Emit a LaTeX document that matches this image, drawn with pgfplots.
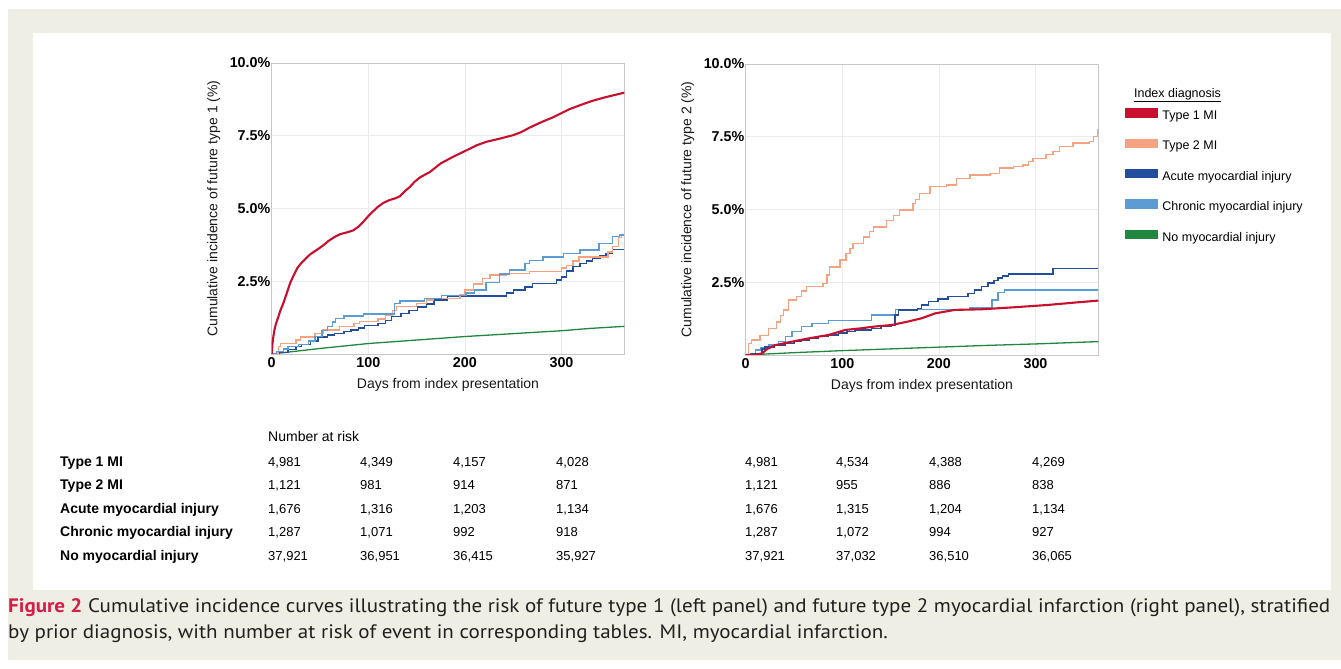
\documentclass[border=0pt]{standalone}
\usepackage{pgfplots}
\pgfplotsset{compat=1.18}
\usepackage{fontspec}
\usepackage{graphicx}
\setmainfont{Liberation Sans}
\newfontfamily\capfont{PT Sans}

\definecolor{bgbeige}{RGB}{238,238,228}
\definecolor{tone}{RGB}{200,16,46}
\definecolor{ttwo}{RGB}{244,162,128}
\definecolor{acute}{RGB}{35,78,158}
\definecolor{chronic}{RGB}{92,156,210}
\definecolor{noinj}{RGB}{34,135,62}
\definecolor{figred}{RGB}{214,28,72}
\definecolor{captext}{RGB}{35,31,32}

\pgfplotsset{
  kmaxis/.style={
    scale only axis, width=352.6pt, height=291pt,
    xmin=0, xmax=365, ymin=0, ymax=10,
    xtick={0,100,200,300}, xticklabels={0,100,200,300},
    ytick={2.5,5,7.5,10}, yticklabels={2.5\%,5.0\%,7.5\%,10.0\%},
    major tick length=0pt,
    grid=major,
    major grid style={draw=black!8, line width=0.7pt},
    axis line style={draw=black!22, line width=0.9pt},
    /pgf/number format/assume math mode=true,
    ticklabel style={font=\bfseries\fontsize{14.3}{14.3}\selectfont, text=black},
    yticklabel style={inner sep=1.2pt},
    xticklabel style={inner sep=2pt, yshift=-1.5pt},
    label style={font=\fontsize{14}{14}\selectfont, text=black!90},
    xlabel style={at={(axis description cs:0.5,0)}, anchor=center, yshift=-31pt},
    ylabel style={at={(axis description cs:-0.1645,0.5)}, anchor=center},
    xlabel={Days from index presentation},
  }
}

\newsavebox\capA
\newsavebox\capB
\newlength\capw

\begin{document}
\sbox\capA{\capfont\fontsize{19.5}{19.5}\selectfont\color{captext}{\bfseries\color{figred}Figure 2} Cumulative incidence curves illustrating the risk of future type 1 (left panel) and future type 2 myocardial infarction (right panel), stratified}%
\sbox\capB{\capfont\fontsize{19.5}{19.5}\selectfont\color{captext}by prior diagnosis, with number at risk of event in corresponding tables. MI, myocardial infarction.}%
\setlength\capw{\wd\capA}%
\begin{tikzpicture}[x=1pt,y=1pt]
\pgfmathsetmacro\capfac{1322/\capw}
\fill[white] (0,0) rectangle (1341,669);
\fill[bgbeige] (8,9) rectangle (1341,660);
\fill[white] (33,79) rectangle (1331,636);

% ---------------- left panel ----------------
\begin{axis}[kmaxis, at={(271.7pt,315pt)}, anchor=south west,
  ylabel={Cumulative incidence of future type 1 (\%)}]
\addplot[noinj, line width=1.3pt] coordinates {
(0,0) (50,0.19) (100,0.36) (150,0.48) (200,0.6) (250,0.70) (300,0.8) (330,0.88) (365,0.95)};
\addplot[acute, line width=1.4pt, const plot] coordinates {
(0,0) (8,0.05) (16.8,0.16) (25,0.25) (30.6,0.33) (40,0.45) (48,0.59) (58,0.65) (65,0.71) (75,0.77) (82,0.82) (90,0.9) (96,0.97) (110,1.05) (118,1.15) (124,1.28) (134,1.39) (142,1.5) (151,1.62) (160,1.72) (168,1.85) (182,1.99) (243,2.1) (250,2.2) (262,2.3) (270,2.43) (295,2.54) (300,2.65) (305,2.85) (312,3.0) (319,3.11) (326,3.2) (332,3.29) (340,3.38) (346,3.46) (353,3.6) (365,3.6)};
\addplot[ttwo, line width=1.4pt, const plot] coordinates {
(0,0) (7,0.25) (9,0.37) (25,0.48) (30,0.59) (45,0.7) (53,0.82) (70,0.94) (85,1.05) (91,1.11) (110,1.2) (118,1.34) (125,1.5) (129,1.63) (150,1.74) (160,1.85) (167,1.91) (195,2.03) (200,2.2) (209,2.4) (218,2.6) (226,2.71) (243,2.77) (267,2.83) (300,2.95) (305,3.05) (312,3.2) (318,3.34) (348,3.5) (353,3.69) (359,4.0) (362,4.09) (365,4.09)};
\addplot[chronic, line width=1.4pt, const plot] coordinates {
(0,0) (5,0.08) (12,0.17) (17,0.25) (28,0.33) (38,0.45) (45,0.6) (52,0.8) (58,0.94) (63,1.1) (66,1.22) (75,1.3) (95,1.38) (127,1.74) (133,1.82) (158,1.9) (176,2.0) (201,2.1) (210,2.2) (222,2.45) (236,2.75) (246,2.88) (262,3.1) (267,3.22) (281,3.34) (302,3.45) (319,3.57) (339,3.8) (353,4.03) (360,4.09) (365,4.09)};
\addplot[tone, line width=2.1pt] coordinates {
(0,0) (0.8,0.35) (1.7,0.6) (3,0.85) (4.5,1.05) (6.9,1.28) (9,1.5) (12,1.74) (15.5,2.08) (19,2.43) (22,2.65) (26.5,2.95) (30,3.1) (35,3.27) (40,3.43) (48.6,3.62) (54,3.75) (59,3.89) (65,4.02) (71,4.12) (78,4.18) (84.5,4.25) (90,4.38) (95,4.55) (101.7,4.8) (110,5.06) (116,5.2) (122,5.29) (128,5.35) (132.7,5.42) (138,5.6) (143,5.74) (148,5.92) (153.6,6.07) (164,6.26) (170,6.42) (175,6.55) (188,6.78) (201.7,7.0) (212,7.17) (222,7.29) (236,7.4) (250,7.52) (258,7.62) (267,7.78) (280,7.98) (291,8.13) (300,8.28) (308,8.41) (320,8.56) (332,8.7) (345,8.82) (355,8.9) (365,8.98)};
\end{axis}

% ---------------- right panel ----------------
\begin{axis}[kmaxis, at={(745.7pt,314pt)}, anchor=south west,
  ylabel={Cumulative incidence of future type 2 (\%)},
  legend image code/.code={\fill[#1] (0pt,-0.3pt) rectangle (32pt,8pt);},
  legend cell align=left,
  legend style={at={(axis description cs:1.0757,0.848)}, anchor=north west,
    draw=none, fill=none, inner sep=0pt, outer sep=0pt,
    row sep=16.2pt, column sep=5pt,
    font=\fontsize{12.5}{12.5}\selectfont,
    nodes={inner sep=0pt, text height=9pt, text depth=3pt}}]
\addlegendimage{tone}\addlegendentry{Type 1 MI}
\addlegendimage{ttwo}\addlegendentry{Type 2 MI}
\addlegendimage{acute}\addlegendentry{Acute myocardial injury}
\addlegendimage{chronic}\addlegendentry{Chronic myocardial injury}
\addlegendimage{noinj}\addlegendentry{No myocardial injury}
\addplot[noinj, line width=1.3pt, forget plot] coordinates {
(0,0) (50,0.08) (100,0.15) (150,0.21) (200,0.27) (250,0.33) (300,0.38) (365,0.46)};
\addplot[ttwo, line width=1.4pt, const plot, forget plot] coordinates {
(0,0) (2.8,0.40) (6.2,0.51) (14.8,0.68) (23.4,0.91) (32,1.14) (36,1.35) (39,1.55) (44,1.89) (52.7,2.0) (58,2.2) (63,2.35) (80,2.46) (84,2.75) (87,3.03) (97.5,3.26) (104,3.49) (108,3.65) (111,3.83) (121.7,4.06) (128,4.25) (132,4.40) (146,4.63) (153,4.8) (159,4.98) (173,5.2) (176,5.35) (180,5.55) (190.6,5.78) (208,5.84) (218,6.07) (232,6.18) (253,6.24) (263,6.42) (277,6.47) (287,6.53) (293,6.65) (297.5,6.76) (311,6.88) (318,7.0) (325,7.16) (339,7.28) (356,7.34) (360,7.5) (364,7.74) (365,7.74)};
\addplot[chronic, line width=1.4pt, const plot, forget plot] coordinates {
(0,0) (8,0.06) (10,0.17) (16,0.25) (23.8,0.34) (34,0.46) (41,0.63) (48,0.80) (58,0.98) (68.6,1.09) (86,1.18) (130,1.38) (155,1.57) (232,1.62) (255,1.89) (261,2.14) (268,2.24) (365,2.24)};
\addplot[acute, line width=1.4pt, const plot, forget plot] coordinates {
(0,0) (5,0.03) (13.4,0.06) (17,0.2) (20,0.28) (30,0.34) (41,0.40) (50,0.46) (58,0.52) (66,0.57) (75,0.63) (85,0.69) (96,0.75) (105,0.8) (113,0.86) (130,0.92) (140,0.97) (151,1.03) (154.6,1.38) (158,1.55) (178,1.6) (182,1.72) (189,1.84) (199,1.92) (209.6,2.01) (230,2.12) (237,2.24) (244,2.35) (251,2.47) (257,2.55) (261.3,2.64) (266,2.72) (272,2.79) (318,2.98) (365,2.98)};
\addplot[tone, line width=2.1pt, forget plot] coordinates {
(0,0) (10,0) (17,0.06) (22,0.2) (30.6,0.34) (48,0.46) (65,0.57) (86,0.69) (103,0.86) (120,0.92) (134,0.98) (151,1.03) (168,1.15) (182,1.26) (196,1.43) (216.5,1.55) (244,1.57) (278,1.64) (313,1.72) (340,1.8) (365,1.87)};
\end{axis}

% legend title
\node[font=\fontsize{12.5}{12.5}\selectfont, inner sep=0pt] at (1177.5,574) {\underline{Index diagnosis}};

% number at risk tables
\node[anchor=west, inner sep=0pt, font=\fontsize{14}{14}\selectfont] at (268,233) {Number at risk};
\foreach \lab [count=\i] in {Type 1 MI, Type 2 MI, Acute myocardial injury, Chronic myocardial injury, No myocardial injury}{
  \pgfmathsetmacro\yy{669-(463+(\i-1)*23.45)}
  \node[anchor=west, inner sep=0pt, text height=10pt, text depth=3pt, font=\bfseries\fontsize{14}{14}\selectfont] at (60,\yy) {\lab};
}
\newcommand\riskrow[9]{%
  \node[anchor=west, inner sep=0pt, text height=10pt, text depth=3pt, font=\fontsize{13}{13}\selectfont] at (268,#1) {#2};
  \node[anchor=west, inner sep=0pt, text height=10pt, text depth=3pt, font=\fontsize{13}{13}\selectfont] at (360,#1) {#3};
  \node[anchor=west, inner sep=0pt, text height=10pt, text depth=3pt, font=\fontsize{13}{13}\selectfont] at (453,#1) {#4};
  \node[anchor=west, inner sep=0pt, text height=10pt, text depth=3pt, font=\fontsize{13}{13}\selectfont] at (556,#1) {#5};
  \node[anchor=west, inner sep=0pt, text height=10pt, text depth=3pt, font=\fontsize{13}{13}\selectfont] at (745,#1) {#6};
  \node[anchor=west, inner sep=0pt, text height=10pt, text depth=3pt, font=\fontsize{13}{13}\selectfont] at (836,#1) {#7};
  \node[anchor=west, inner sep=0pt, text height=10pt, text depth=3pt, font=\fontsize{13}{13}\selectfont] at (929,#1) {#8};
  \node[anchor=west, inner sep=0pt, text height=10pt, text depth=3pt, font=\fontsize{13}{13}\selectfont] at (1032,#1) {#9};
}
\riskrow{206}{4,981}{4,349}{4,157}{4,028}{4,981}{4,534}{4,388}{4,269}
\riskrow{182.6}{1,121}{981}{914}{871}{1,121}{955}{886}{838}
\riskrow{159.1}{1,676}{1,316}{1,203}{1,134}{1,676}{1,315}{1,204}{1,134}
\riskrow{135.7}{1,287}{1,071}{992}{918}{1,287}{1,072}{994}{927}
\riskrow{112.2}{37,921}{36,951}{36,415}{35,927}{37,921}{37,032}{36,510}{36,065}

% caption
\node[anchor=base west, inner sep=0pt] at (8,56) {\resizebox{1322pt}{\height}{\usebox\capA}};
\node[anchor=base west, inner sep=0pt] at (8,30) {\scalebox{\capfac}[1]{\usebox\capB}};
\end{tikzpicture}
\end{document}
